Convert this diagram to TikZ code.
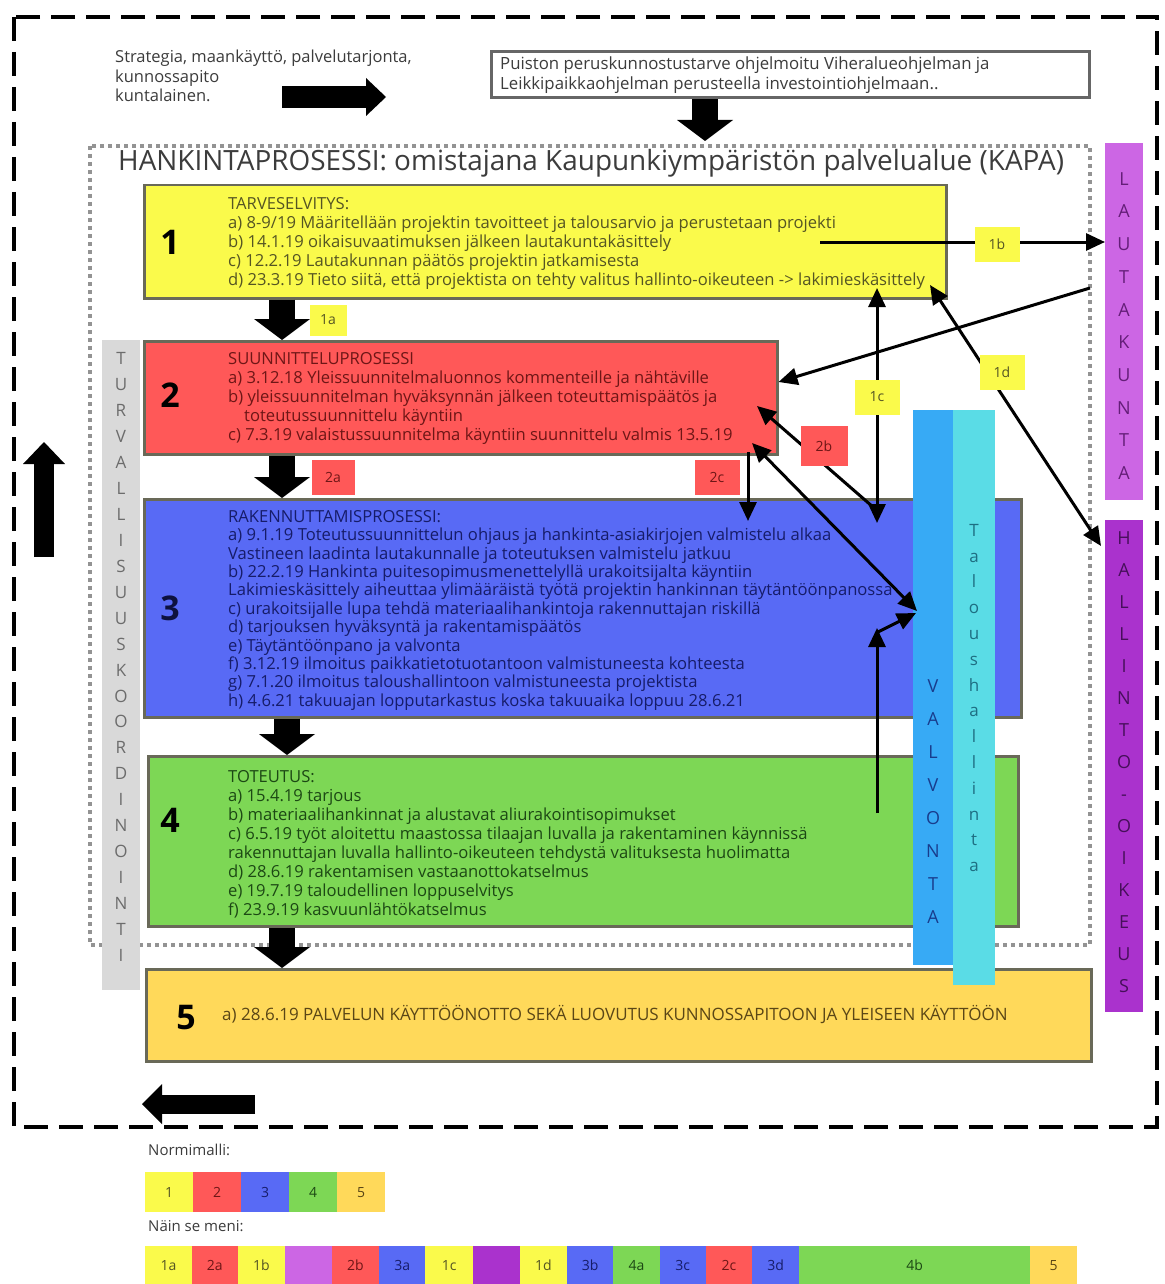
\documentclass[tikz,border=0pt]{standalone}
\usepackage{fontspec}
\setmainfont{Open Sans}
\usetikzlibrary{arrows.meta}

% fills
\definecolor{cYel}{RGB}{250,250,75}
\definecolor{cRed}{RGB}{255,88,88}
\definecolor{cBlu}{RGB}{88,106,245}
\definecolor{cGrn}{RGB}{125,215,85}
\definecolor{cGld}{RGB}{255,217,90}
\definecolor{cLil}{RGB}{204,102,228}
\definecolor{cPur}{RGB}{170,50,205}
\definecolor{cVal}{RGB}{55,170,245}
\definecolor{cTal}{RGB}{90,220,230}
\definecolor{cTur}{RGB}{217,217,217}
\definecolor{cLine}{RGB}{105,105,88}
% text colours
\definecolor{tYel}{RGB}{85,85,35}
\definecolor{tRed}{RGB}{110,22,22}
\definecolor{tBlu}{RGB}{22,28,105}
\definecolor{tGrn}{RGB}{28,72,20}
\definecolor{tGld}{RGB}{90,70,22}
\definecolor{tLil}{RGB}{100,30,120}
\definecolor{tPur}{RGB}{70,15,90}
\definecolor{tVal}{RGB}{25,60,140}
\definecolor{tTal}{RGB}{30,110,130}
\definecolor{tGray}{RGB}{60,60,60}

\tikzset{
  box/.style={draw=cLine, line width=2.5pt, inner sep=0pt, anchor=north west},
  txt/.style={anchor=north west, inner sep=0pt, align=left, font=\fontsize{16.6}{19}\selectfont},
  num/.style={inner sep=0pt, font=\fontsize{34}{34}\selectfont\bfseries},
  tag/.style={inner sep=0pt, minimum width=45pt, minimum height=35pt, font=\fontsize{14}{14}\selectfont},
  con/.style={line width=3pt, -{Triangle[width=17pt,length=19pt]}},
  conboth/.style={line width=3pt, {Triangle[width=17pt,length=19pt]}-{Triangle[width=17pt,length=19pt]}},
  fat/.style={line width=26pt, -{Triangle[width=56pt,length=21pt,line width=0pt]}},
  bar/.style={inner sep=0pt, anchor=north west},
  vlet/.style={inner sep=0pt, align=center},
  cell/.style={inner sep=0pt, anchor=north west, minimum height=40pt, font=\fontsize{14}{14}\selectfont},
}

\begin{document}
\begin{tikzpicture}[x=1pt,y=-1pt]
\useasboundingbox[fill=white] (0,0) rectangle (1164,1284);

% outer frame
\draw[line width=4pt, dash pattern=on 24pt off 11pt] (14,17) rectangle (1157,1127);

% intro text and source box
\node[anchor=north west, inner sep=0pt, align=left, text=tGray,
      font=\fontsize{16.5}{19.5}\selectfont] (strat) at (115,50)
  {Strategia, maankäyttö, palvelutarjonta,\\kunnossapito\\kuntalainen.};
\node[box, draw=gray!80!black, line width=3pt, minimum width=598pt, minimum height=46pt] (src) at (490,50) {};
\node[anchor=north west, inner sep=0pt, align=left, text=tGray,
      font=\fontsize{16.8}{20}\selectfont] (srct) at (500,57)
  {Puiston peruskunnostustarve ohjelmoitu Viheralueohjelman ja\\Leikkipaikkaohjelman perusteella investointiohjelmaan..};

% procurement frame
\draw[gray!85, line width=4pt, dash pattern=on 4pt off 4pt] (90,146) rectangle (1090,945);
\node[anchor=west, inner sep=0pt, text=tGray, font=\fontsize{27.9}{28}\selectfont] (title) at (118,163)
  {HANKINTAPROSESSI: omistajana Kaupunkiympäristön palvelualue (KAPA)};

% side bars
\node[bar, fill=cTur, minimum width=38pt, minimum height=650pt] (turv) at (102,340) {};
\node[vlet, text=gray!85!black, font=\fontsize{17}{25.95}\selectfont] at (121,657)
  {T\\U\\R\\V\\A\\L\\L\\I\\S\\U\\U\\S\\K\\O\\O\\R\\D\\I\\N\\O\\I\\N\\T\\I};
\node[bar, fill=cLil, minimum width=38pt, minimum height=357pt] (lauta) at (1105,143) {};
\node[vlet, text=tLil, font=\fontsize{18}{32.7}\selectfont] at (1124,326)
  {L\\A\\U\\T\\A\\K\\U\\N\\T\\A};
\node[bar, fill=cPur, minimum width=38pt, minimum height=492pt] (hallinto) at (1105,520) {};
\node[vlet, text=tPur, font=\fontsize{18}{32}\selectfont] at (1124,762)
  {H\\A\\L\\L\\I\\N\\T\\O\\-\\O\\I\\K\\E\\U\\S};

% phase 1
\node[box, fill=cYel, minimum width=802pt, minimum height=113pt] (b1) at (143,184) {};
\node[num] at (170,242) {1};
\node[txt, text=tYel] (t1) at (228,197)
  {TARVESELVITYS:\\
   a) 8-9/19 Määritellään projektin tavoitteet ja talousarvio ja perustetaan projekti\\
   b) 14.1.19 oikaisuvaatimuksen jälkeen lautakuntakäsittely\\
   c) 12.2.19 Lautakunnan päätös projektin jatkamisesta\\
   d) 23.3.19 Tieto siitä, että projektista on tehty valitus hallinto-oikeuteen -> lakimieskäsittely};

% phase 2
\node[box, fill=cRed, minimum width=633pt, minimum height=113pt] (b2) at (143,340) {};
\node[num] at (170,395) {2};
\node[txt, text=tRed] (t2) at (228,352)
  {SUUNNITTELUPROSESSI\\
   a) 3.12.18 Yleissuunnitelmaluonnos kommenteille ja nähtäville\\
   b) yleissuunnitelman hyväksynnän jälkeen toteuttamispäätös ja\\
   \hspace*{16pt}toteutussuunnittelu käyntiin\\
   c) 7.3.19 valaistussuunnitelma käyntiin suunnittelu valmis 13.5.19};

% phase 3
\node[box, fill=cBlu, minimum width=877pt, minimum height=218pt] (b3) at (143,498) {};
\node[num, text=tBlu!60!black] at (170,608) {3};
\node[txt, text=tBlu, font=\fontsize{16.6}{18.4}\selectfont] (t3) at (228,510)
  {RAKENNUTTAMISPROSESSI:\\
   a) 9.1.19 Toteutussuunnittelun ohjaus ja hankinta-asiakirjojen valmistelu alkaa\\
   Vastineen laadinta lautakunnalle ja toteutuksen valmistelu jatkuu\\
   b) 22.2.19 Hankinta puitesopimusmenettelyllä urakoitsijalta käyntiin\\
   Lakimieskäsittely aiheuttaa ylimääräistä työtä projektin hankinnan täytäntöönpanossa\\
   c) urakoitsijalle lupa tehdä materiaalihankintoja rakennuttajan riskillä\\
   d) tarjouksen hyväksyntä ja rakentamispäätös\\
   e) Täytäntöönpano ja valvonta\\
   f) 3.12.19 ilmoitus paikkatietotuotantoon valmistuneesta kohteesta\\
   g) 7.1.20 ilmoitus taloushallintoon valmistuneesta projektista\\
   h) 4.6.21 takuuajan lopputarkastus koska takuuaika loppuu 28.6.21};

% phase 4
\node[box, fill=cGrn, minimum width=870pt, minimum height=170pt] (b4) at (147,755) {};
\node[num] at (170,820) {4};
\node[txt, text=tGrn] (t4) at (228,770)
  {TOTEUTUS:\\
   a) 15.4.19 tarjous\\
   b) materiaalihankinnat ja alustavat aliurakointisopimukset\\
   c) 6.5.19 työt aloitettu maastossa tilaajan luvalla ja rakentaminen käynnissä\\
   rakennuttajan luvalla hallinto-oikeuteen tehdystä valituksesta huolimatta\\
   d) 28.6.19 rakentamisen vastaanottokatselmus\\
   e) 19.7.19 taloudellinen loppuselvitys\\
   f) 23.9.19 kasvuunlähtökatselmus};

% phase 5
\node[box, fill=cGld, minimum width=945pt, minimum height=92pt] (b5) at (145,968) {};
\node[num] at (186,1018) {5};
\node[anchor=west, inner sep=0pt, text=tGld, font=\fontsize{17}{19}\selectfont] (t5) at (222,1014)
  {a) 28.6.19 PALVELUN KÄYTTÖÖNOTTO SEKÄ LUOVUTUS KUNNOSSAPITOON JA YLEISEEN KÄYTTÖÖN};

% supervision and finance columns
\node[bar, fill=cVal, minimum width=40pt, minimum height=555pt] (valv) at (913,410) {};
\node[vlet, text=tVal, font=\fontsize{18}{33}\selectfont] at (933,802)
  {V\\A\\L\\V\\O\\N\\T\\A};
\node[bar, fill=cTal, minimum width=42pt, minimum height=575pt] (talo) at (953,410) {};
\node[vlet, text=tTal, font=\fontsize{17}{25.8}\selectfont] at (974,698)
  {T\\a\\l\\o\\u\\s\\h\\a\\l\\l\\i\\n\\t\\a};

% flow between phases
\draw[fat] ([xshift=139pt]b1.south west) -- ([xshift=139pt]b2.north west);
\draw[fat] ([xshift=139pt]b2.south west) -- ([xshift=139pt]b3.north west);
\draw[fat] ([xshift=144pt]b3.south west) -- ([xshift=140pt]b4.north west);
\draw[fat] ([xshift=135pt]b4.south west) -- ([xshift=137pt]b5.north west);
\draw[fat] (src.south -| 705,0) -- (705,141);

% loop arrows of the outer cycle
\coordinate (fa1) at (282,97);  \coordinate (fa2) at (386,97);
\draw[line width=22pt, -{Triangle[width=38pt,length=20pt,line width=0pt]}] (fa1) -- (fa2);
\coordinate (up1) at (44,557);  \coordinate (up2) at (44,442);
\draw[line width=20pt, -{Triangle[width=42pt,length=22pt,line width=0pt]}] (up1) -- (up2);
\coordinate (lf1) at (255,1104); \coordinate (lf2) at (142,1104);
\draw[line width=19pt, -{Triangle[width=40pt,length=20pt,line width=0pt]}] (lf1) -- (lf2);

% events
\coordinate (s1b) at (820,242);
\draw[con] (s1b) -- (lauta.west |- s1b);
\coordinate (s1l) at (1090,288);
\draw[con] (s1l) -- (b2.east |- 0,382);
\draw[conboth] (877,288) -- (877,523);
\draw[conboth] (930,285) -- (1101,546);
\draw[con] (873,507) -- (757,406);
\draw[con] (748,452) -- (748,521);
\draw[conboth] (752,443) -- (917,611);
\draw[con] (877,813) -- (877,628);
\draw[con] (878,632) -- (916,613);

% event tags
\node[tag, fill=cYel, text=tYel, minimum width=37pt, minimum height=31pt] (g1a) at (328,320) {1a};
\node[tag, fill=cYel, text=tYel] (g1b) at (997,244) {1b};
\node[tag, fill=cYel, text=tYel] (g1c) at (877,397) {1c};
\node[tag, fill=cYel, text=tYel] (g1d) at (1002,372) {1d};
\node[tag, fill=cRed, text=tRed, minimum width=43pt] (g2a) at (333,477) {2a};
\node[tag, fill=cRed, text=tRed, minimum width=47pt, minimum height=40pt] (g2b) at (824,446) {2b};
\node[tag, fill=cRed, text=tRed] (g2c) at (717,477) {2c};

% legend
\node[anchor=west, inner sep=0pt, text=tGray, font=\fontsize{15}{15}\selectfont] (norm) at (148,1150) {Normimalli:};
\foreach \c/\t/\l [count=\i from 0] in {cYel/tYel/1, cRed/tRed/2, cBlu/tBlu/3, cGrn/tGrn/4, cGld/tGld/5}
  \node[cell, fill=\c, text=\t, minimum width=48pt] (n\l) at (145+48*\i,1172) {\l};
\node[anchor=west, inner sep=0pt, text=tGray, font=\fontsize{15}{15}\selectfont] (nain) at (148,1226) {Näin se meni:};
\foreach \x/\w/\c/\t/\l [count=\i] in {
    145/46.5/cYel/tYel/1a, 191.5/46/cRed/tRed/2a, 237.5/47.5/cYel/tYel/1b, 285/46.5/cLil/tLil/,
    331.5/47.5/cRed/tRed/2b, 379/46/cBlu/tBlu/3a, 425/48/cYel/tYel/1c, 473/46.5/cPur/tPur/,
    519.5/47.5/cYel/tYel/1d, 567/46/cBlu/tBlu/3b, 613/46.5/cGrn/tGrn/4a, 659.5/46/cBlu/tBlu/3c,
    705.5/46.5/cRed/tRed/2c, 752/47/cBlu/tBlu/3d, 799/231/cGrn/tGrn/4b, 1030/47/cGld/tGld/5}
  \node[cell, fill=\c, text=\t, minimum width=\w pt, minimum height=38pt] (r\i) at (\x,1246) {\l};
\end{tikzpicture}
\end{document}
